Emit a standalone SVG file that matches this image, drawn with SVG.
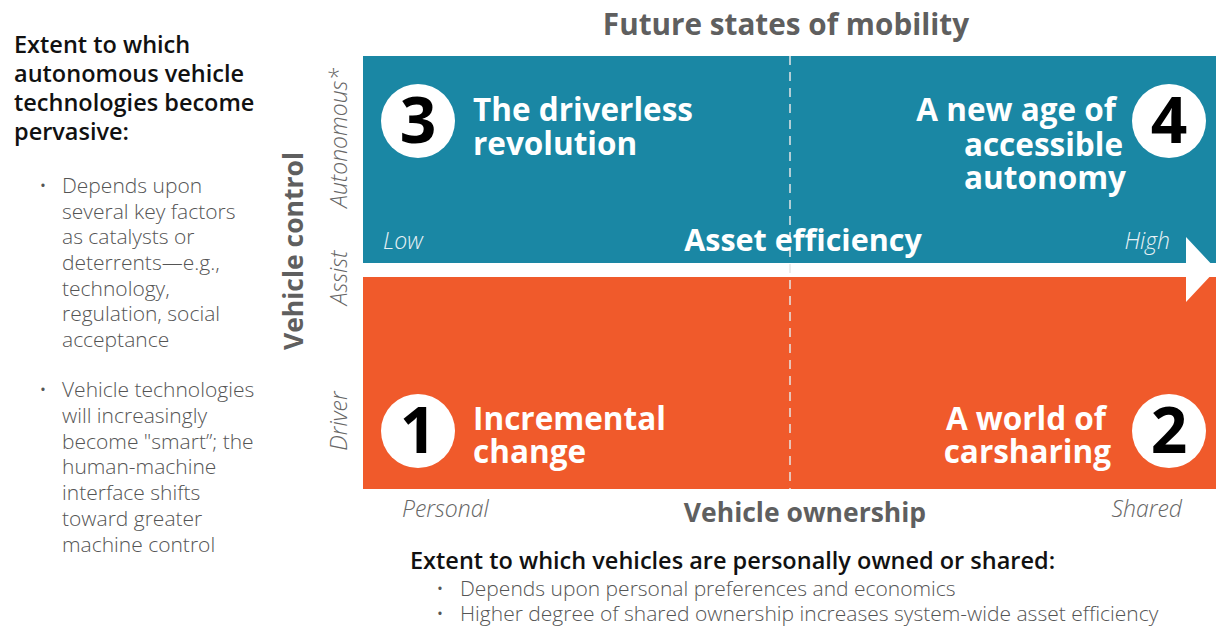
<svg xmlns="http://www.w3.org/2000/svg" width="1216" height="628" viewBox="0 0 1216 628">
<style>
  text { font-family: "Open Sans", "Noto Sans", "Liberation Sans", sans-serif; }
  .qt { fill: #ffffff; font-weight: 700; font-size: 31.5px; }
  .num { fill: #000000; font-weight: 700; font-size: 64px; text-anchor: middle; }
  .circ { fill: #ffffff; }
  .ax { fill: #666666; font-style: italic; font-weight: 300; font-size: 23px; }
  .axw { fill: #e8f2f6; font-style: italic; font-weight: 300; font-size: 23px; }
  .axt { fill: #5f5f5f; font-weight: 700; font-size: 26.5px; }
  .head { fill: #111111; font-weight: 600; font-size: 23.5px; }
  .body { fill: #555555; font-weight: 300; font-size: 21px; }
  .bb { fill: #555555; font-weight: 300; font-size: 21px; }
</style>
<rect width="1216" height="628" fill="#ffffff"/>

<g id="title">
  <text x="786" y="35" text-anchor="middle" style="fill:#5f5f5f;font-weight:700;font-size:29.7px">Future states of mobility</text>
</g>

<g id="left-notes">
  <text class="head" x="14" y="53">Extent to which</text>
  <text class="head" x="14" y="82">autonomous vehicle</text>
  <text class="head" x="14" y="111">technologies become</text>
  <text class="head" x="14" y="140">pervasive:</text>
  <text class="body" x="39" y="193">•</text>
  <text class="body" x="62" y="193">Depends upon</text>
  <text class="body" x="62" y="219">several key factors</text>
  <text class="body" x="62" y="244">as catalysts or</text>
  <text class="body" x="62" y="270">deterrents—e.g.,</text>
  <text class="body" x="62" y="296">technology,</text>
  <text class="body" x="62" y="321">regulation, social</text>
  <text class="body" x="62" y="347">acceptance</text>
  <text class="body" x="39" y="397">•</text>
  <text class="body" x="62" y="397">Vehicle technologies</text>
  <text class="body" x="62" y="423">will increasingly</text>
  <text class="body" x="62" y="449">become "smart”; the</text>
  <text class="body" x="62" y="474">human-machine</text>
  <text class="body" x="62" y="500">interface shifts</text>
  <text class="body" x="62" y="526">toward greater</text>
  <text class="body" x="62" y="552">machine control</text>
</g>

<g id="y-axis">
  <text class="axt" transform="translate(303,251) rotate(-90)" text-anchor="middle">Vehicle control</text>
  <text class="ax" transform="translate(347,138) rotate(-90)" text-anchor="middle">Autonomous*</text>
  <text class="ax" transform="translate(347,278) rotate(-90)" text-anchor="middle">Assist</text>
  <text class="ax" transform="translate(347,421) rotate(-90)" text-anchor="middle">Driver</text>
</g>

<g id="top-band">
  <rect x="363" y="56" width="853" height="207" fill="#1a87a4"/>
</g>
<g id="bottom-band">
  <rect x="363" y="277" width="853" height="212" fill="#f05a2b"/>
</g>

<g id="connectors">
  <polygon points="363,263 1186,263 1186,237 1216,269 1216,270 1186,302 1186,277 363,277" fill="#ffffff"/>
  <line x1="790" y1="56" x2="790" y2="489" stroke="#e6e6e6" stroke-width="1.5" stroke-dasharray="9,7"/>
</g>

<g id="axis-asset-efficiency">
  <text class="axw" x="383" y="249">Low</text>
  <text class="axw" x="1170" y="249" text-anchor="end">High</text>
  <text x="803" y="251" text-anchor="middle" style="fill:#ffffff;font-weight:700;font-size:30.5px">Asset efficiency</text>
</g>

<g id="q3">
  <circle class="circ" cx="418" cy="121" r="37"/>
  <text class="num" x="418" y="143">3</text>
  <text class="qt" x="473" y="121">The driverless</text>
  <text class="qt" x="473" y="155">revolution</text>
</g>

<g id="q4">
  <circle class="circ" cx="1169" cy="121" r="37"/>
  <text class="num" x="1169" y="143">4</text>
  <text class="qt" x="1116" y="121" text-anchor="end">A new age of</text>
  <text class="qt" x="1123" y="156" text-anchor="end">accessible</text>
  <text class="qt" x="1126" y="189" text-anchor="end">autonomy</text>
</g>

<g id="q1">
  <circle class="circ" cx="418" cy="431" r="37"/>
  <text class="num" x="418" y="453">1</text>
  <text class="qt" x="473" y="430">Incremental</text>
  <text class="qt" x="473" y="463">change</text>
</g>

<g id="q2">
  <circle class="circ" cx="1169" cy="431" r="37"/>
  <text class="num" x="1169" y="453">2</text>
  <text class="qt" x="1106" y="430" text-anchor="end">A world of</text>
  <text class="qt" x="1111" y="463" text-anchor="end">carsharing</text>
</g>

<g id="x-axis">
  <text class="ax" x="402" y="517">Personal</text>
  <text class="ax" x="1182" y="517" text-anchor="end">Shared</text>
  <text class="axt" x="805" y="522" text-anchor="middle">Vehicle ownership</text>
</g>

<g id="bottom-notes">
  <text x="410" y="569" style="fill:#111111;font-weight:600;font-size:23.5px">Extent to which vehicles are personally owned or shared:</text>
  <text class="bb" x="436" y="596">•</text>
  <text class="bb" x="460" y="596">Depends upon personal preferences and economics</text>
  <text class="bb" x="436" y="621">•</text>
  <text class="bb" x="460" y="621">Higher degree of shared ownership increases system-wide asset efficiency</text>
</g>
</svg>
